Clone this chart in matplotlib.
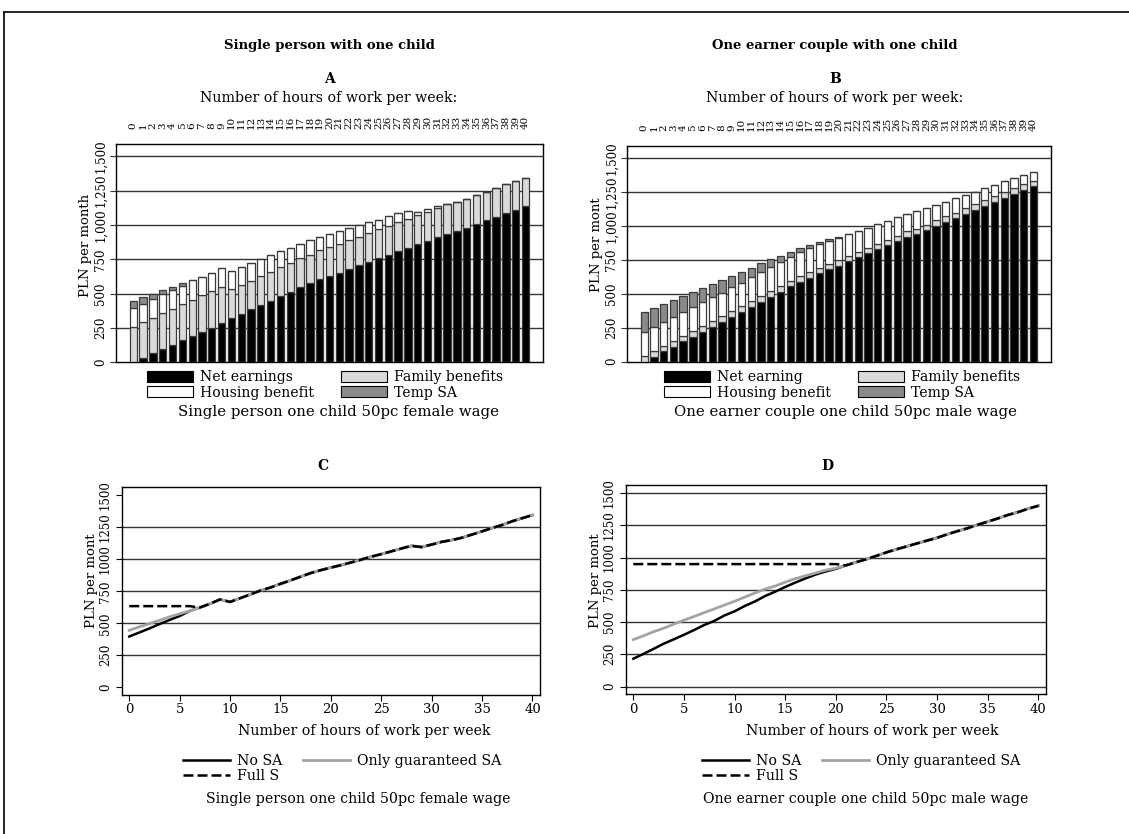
import matplotlib.pyplot as plt
from matplotlib.patches import Patch
from matplotlib.lines import Line2D

W, H = 1129, 834
plt.rcParams['font.family'] = ['DejaVu Serif']

hours = list(range(41))

# panel A - single person with one child (PLN per month)
a_net = [0, 32, 66, 95, 129, 161, 190, 221, 253, 287, 321, 353, 386, 417, 446, 484, 512, 548, 578, 604, 628,
         652, 681, 706, 732, 758, 784, 811, 836, 862, 887, 914, 935, 959, 979, 1008, 1034, 1060, 1087, 1111, 1137]
a_fam = [260, 262, 258, 263, 260, 260, 263, 266, 265, 263, 212, 210, 209, 212, 213, 207, 210, 209, 207, 212, 212,
         211, 210, 209, 208, 210, 209, 209, 209, 209, 210, 210, 215, 209, 214, 210, 210, 208, 210, 210, 208]
a_hb = [137, 134, 136, 136, 137, 136, 143, 136, 134, 136, 134, 133, 130, 126, 120, 117, 113, 107, 107, 99, 95,
        91, 84, 82, 80, 72, 69, 64, 60, 24, 18, 12, 0, 0, 0, 0, 0, 0, 0, 0, 0]
a_temp = [48, 44, 37, 29, 24, 17] + [0] * 35

# panel B - one earner couple with one child
b_net = [0, 37, 76, 111, 150, 184, 221, 258, 295, 332, 369, 406, 442, 479, 516, 555, 587, 619, 654, 683, 708,
         740, 769, 799, 828, 858, 887, 917, 941, 971, 998, 1030, 1059, 1089, 1118, 1148, 1177, 1207, 1239, 1268, 1295]
b_fam = [44, 44, 42, 41, 39, 42, 42, 42, 42, 42, 41, 39, 42, 42, 42, 37, 42, 42, 39, 40, 38,
         37, 37, 39, 40, 42, 42, 44, 40, 39, 44, 42, 40, 41, 42, 42, 42, 42, 39, 42, 40]
b_hb = [172, 172, 174, 180, 177, 175, 175, 177, 172, 177, 173, 179, 175, 180, 177, 180, 177, 177, 175, 169, 166,
        162, 158, 148, 145, 140, 135, 125, 128, 121, 111, 108, 105, 97, 94, 88, 84, 81, 74, 69, 66]
b_temp = [148, 140, 133, 120, 118, 113, 105, 96, 93, 81, 78, 69, 66, 54, 44, 37, 30, 20, 12, 10, 5] + [0] * 20

# panel C lines
c_nosa = [397, 428, 460, 494, 526, 557, 596, 623, 652, 686, 667, 696, 725, 755, 779, 808, 835, 864, 892, 915, 935,
          954, 975, 997, 1020, 1040, 1062, 1084, 1105, 1095, 1115, 1136, 1150, 1168, 1193, 1218, 1244, 1268, 1297, 1321, 1345]
c_guar = [445, 472, 497, 523, 550, 574, 596, 623, 652, 686, 667, 696, 725, 755, 779, 808, 835, 864, 892, 915, 935,
          954, 975, 997, 1020, 1040, 1062, 1084, 1105, 1095, 1115, 1136, 1150, 1168, 1193, 1218, 1244, 1268, 1297, 1321, 1345]
c_full = [634, 634, 634, 634, 634, 634, 634, 623, 652, 686, 667, 696, 725, 755, 779, 808, 835, 864, 892, 915, 935,
          954, 975, 997, 1020, 1040, 1062, 1084, 1105, 1095, 1115, 1136, 1150, 1168, 1193, 1218, 1244, 1268, 1297, 1321, 1345]

# panel D lines
d_nosa = [216, 253, 292, 332, 366, 401, 438, 477, 509, 551, 583, 624, 659, 701, 735, 772, 806, 838, 868, 892, 912,
          939, 964, 986, 1013, 1040, 1064, 1086, 1109, 1131, 1153, 1180, 1204, 1227, 1254, 1278, 1303, 1330, 1352, 1379, 1401]
d_guar = [364, 393, 425, 452, 484, 514, 543, 573, 602, 632, 661, 693, 725, 755, 779, 809, 836, 858, 880, 902, 917,
          939, 964, 986, 1013, 1040, 1064, 1086, 1109, 1131, 1153, 1180, 1204, 1227, 1254, 1278, 1303, 1330, 1352, 1379, 1401]
d_full = [949] * 21 + [939, 964, 986, 1013, 1040, 1064, 1086, 1109, 1131, 1153, 1180, 1204, 1227, 1254, 1278, 1303,
                       1330, 1352, 1379, 1401]

c_black, c_fam, c_hb, c_temp = 'black', '#dadada', 'white', '#8a8a8a'


def box(l, r, t, b):
    return [l / W, 1 - b / H, (r - l) / W, (b - t) / H]


def ftext(x, y, s, **kw):
    fig.text(x / W, 1 - y / H, s, ha='center', va='center', **kw)


fig = plt.figure(figsize=(W / 100, H / 100), dpi=100)

# outer frame (top and left visible)
fig.add_artist(Line2D([3.5 / W, 3.5 / W], [0, 1 - 11.5 / H], color='black', lw=1.2))
fig.add_artist(Line2D([3.5 / W, 1], [1 - 11.5 / H, 1 - 11.5 / H], color='black', lw=1.2))


def bar_panel(pos, net, fam, hb, temp, labels, title, letter, ylab, caption, cx, leg_x):
    ax = fig.add_axes(pos)
    b1 = [n + f for n, f in zip(net, fam)]
    b2 = [x + h for x, h in zip(b1, hb)]
    kw = dict(width=0.75, edgecolor='#3a3a3a', linewidth=0.9, zorder=3)
    ax.bar(hours, net, color=c_black, **kw)
    ax.bar(hours, fam, bottom=net, color=c_fam, **kw)
    ax.bar(hours, hb, bottom=b1, color=c_hb, **kw)
    ax.bar(hours, temp, bottom=b2, color=c_temp, **kw)
    ax.set_xlim(-1.8, 41.78)
    ax.set_ylim(0, 1590)
    for v in [250, 500, 750, 1000, 1250, 1500]:
        ax.axhline(v, color='#333333', lw=1, zorder=1)
    ax.set_yticks([0, 250, 500, 750, 1000, 1250, 1500])
    ax.set_yticklabels(['0', '250', '500', '750', '1,000', '1,250', '1,500'], rotation=90, va='center', fontsize=8.5)
    ax.tick_params(axis='y', length=4, pad=2, color='#333333')
    ax.xaxis.tick_top()
    ax.set_xticks(hours)
    ax.set_xticklabels([str(h) for h in hours], rotation=90, fontsize=7.5)
    ax.tick_params(axis='x', length=0, pad=11)
    for s in ax.spines.values():
        s.set_linewidth(1.0)
    l, b, w, h = pos
    ftext(cx, 46, title, fontsize=9.5, fontweight='bold')
    ftext(cx, 79, letter, fontsize=10, fontweight='bold')
    ftext(cx, 98, 'Number of hours of work per week:', fontsize=10.2)
    ftext(l * W - 30, 245, ylab, fontsize=9.5, rotation=90)
    handles = [Patch(facecolor=c, edgecolor='black', linewidth=0.8) for c in [c_black, c_hb, c_fam, c_temp]]
    fig.legend(handles, labels, ncol=2, loc='upper left', bbox_to_anchor=(leg_x / W, 1 - 370 / H),
               frameon=False, fontsize=10.1, handlelength=3.3, handleheight=0.85, handletextpad=0.5,
               columnspacing=1.9, labelspacing=0.12, borderpad=0, borderaxespad=0)
    ftext(cx + 10, 412, caption, fontsize=10.7)
    return ax


bar_panel(box(115.7, 543, 144, 362.3), a_net, a_fam, a_hb, a_temp,
          ['Net earnings', 'Housing benefit', 'Family benefits', 'Temp SA'],
          'Single person with one child', 'A', 'PLN per month',
          'Single person one child 50pc female wage', 329, 147)
bar_panel(box(626.7, 1050.7, 146, 361.7), b_net, b_fam, b_hb, b_temp,
          ['Net earning', 'Housing benefit', 'Family benefits', 'Temp SA'],
          'One earner couple with one child', 'B', 'PLN per mont',
          'One earner couple one child 50pc male wage', 835, 664)


def line_panel(pos, nosa, guar, full, letter, grid, caption, cx, leg_x):
    ax = fig.add_axes(pos)
    ax.plot(hours, nosa, color='black', lw=1.8, zorder=3)
    ax.plot(hours, guar, color='#a3a3a3', lw=2.0, zorder=4)
    ax.plot(hours, full, color='black', lw=1.8, ls=(0, (4, 1.6)), zorder=5)
    ax.set_xlim(-0.75, 40.75)
    ax.set_ylim(-60, 1562)
    for v in grid:
        ax.axhline(v, color='#333333', lw=1, zorder=1)
    ax.set_yticks([0, 250, 500, 750, 1000, 1250, 1500])
    ax.set_yticklabels(['0', '250', '500', '750', '1000', '1250', '1500'], rotation=90, va='center', fontsize=8.5)
    ax.set_xticks([0, 5, 10, 15, 20, 25, 30, 35, 40])
    ax.tick_params(axis='x', labelsize=9.5, length=4, pad=2)
    ax.tick_params(axis='y', length=4, pad=3)
    for s in ax.spines.values():
        s.set_linewidth(1.0)
    l, b, w, h = pos
    ftext((l + w / 2) * W - 8, 466, letter, fontsize=10, fontweight='bold')
    ftext(cx, 731, 'Number of hours of work per week', fontsize=10.2)
    ftext(l * W - 30, 581, 'PLN per mont', fontsize=9.5, rotation=90)
    handles = [Line2D([], [], color='black', lw=1.8),
               Line2D([], [], color='black', lw=1.8, ls=(0, (4, 1.6))),
               Line2D([], [], color='#a3a3a3', lw=2.0)]
    fig.legend(handles, ['No SA', 'Full S', 'Only guaranteed SA'], ncol=2, loc='upper left',
               bbox_to_anchor=(leg_x / W, 1 - 754 / H), frameon=False, fontsize=10.2,
               handlelength=3.3, handletextpad=0.5, columnspacing=1.5, labelspacing=0.1,
               borderpad=0, borderaxespad=0)
    ftext(cx - 6, 799, caption, fontsize=10.2)
    return ax


line_panel(box(121.7, 540, 487.3, 695), c_nosa, c_guar, c_full, 'C', [250, 500, 750, 1000, 1250],
           'Single person one child 50pc female wage', 364, 183)
line_panel(box(625.7, 1046, 485, 694.3), d_nosa, d_guar, d_full, 'D', [0, 250, 500, 750, 1000, 1250, 1500],
           'One earner couple one child 50pc male wage', 872, 702)

fig.savefig('out.png', dpi=100)
